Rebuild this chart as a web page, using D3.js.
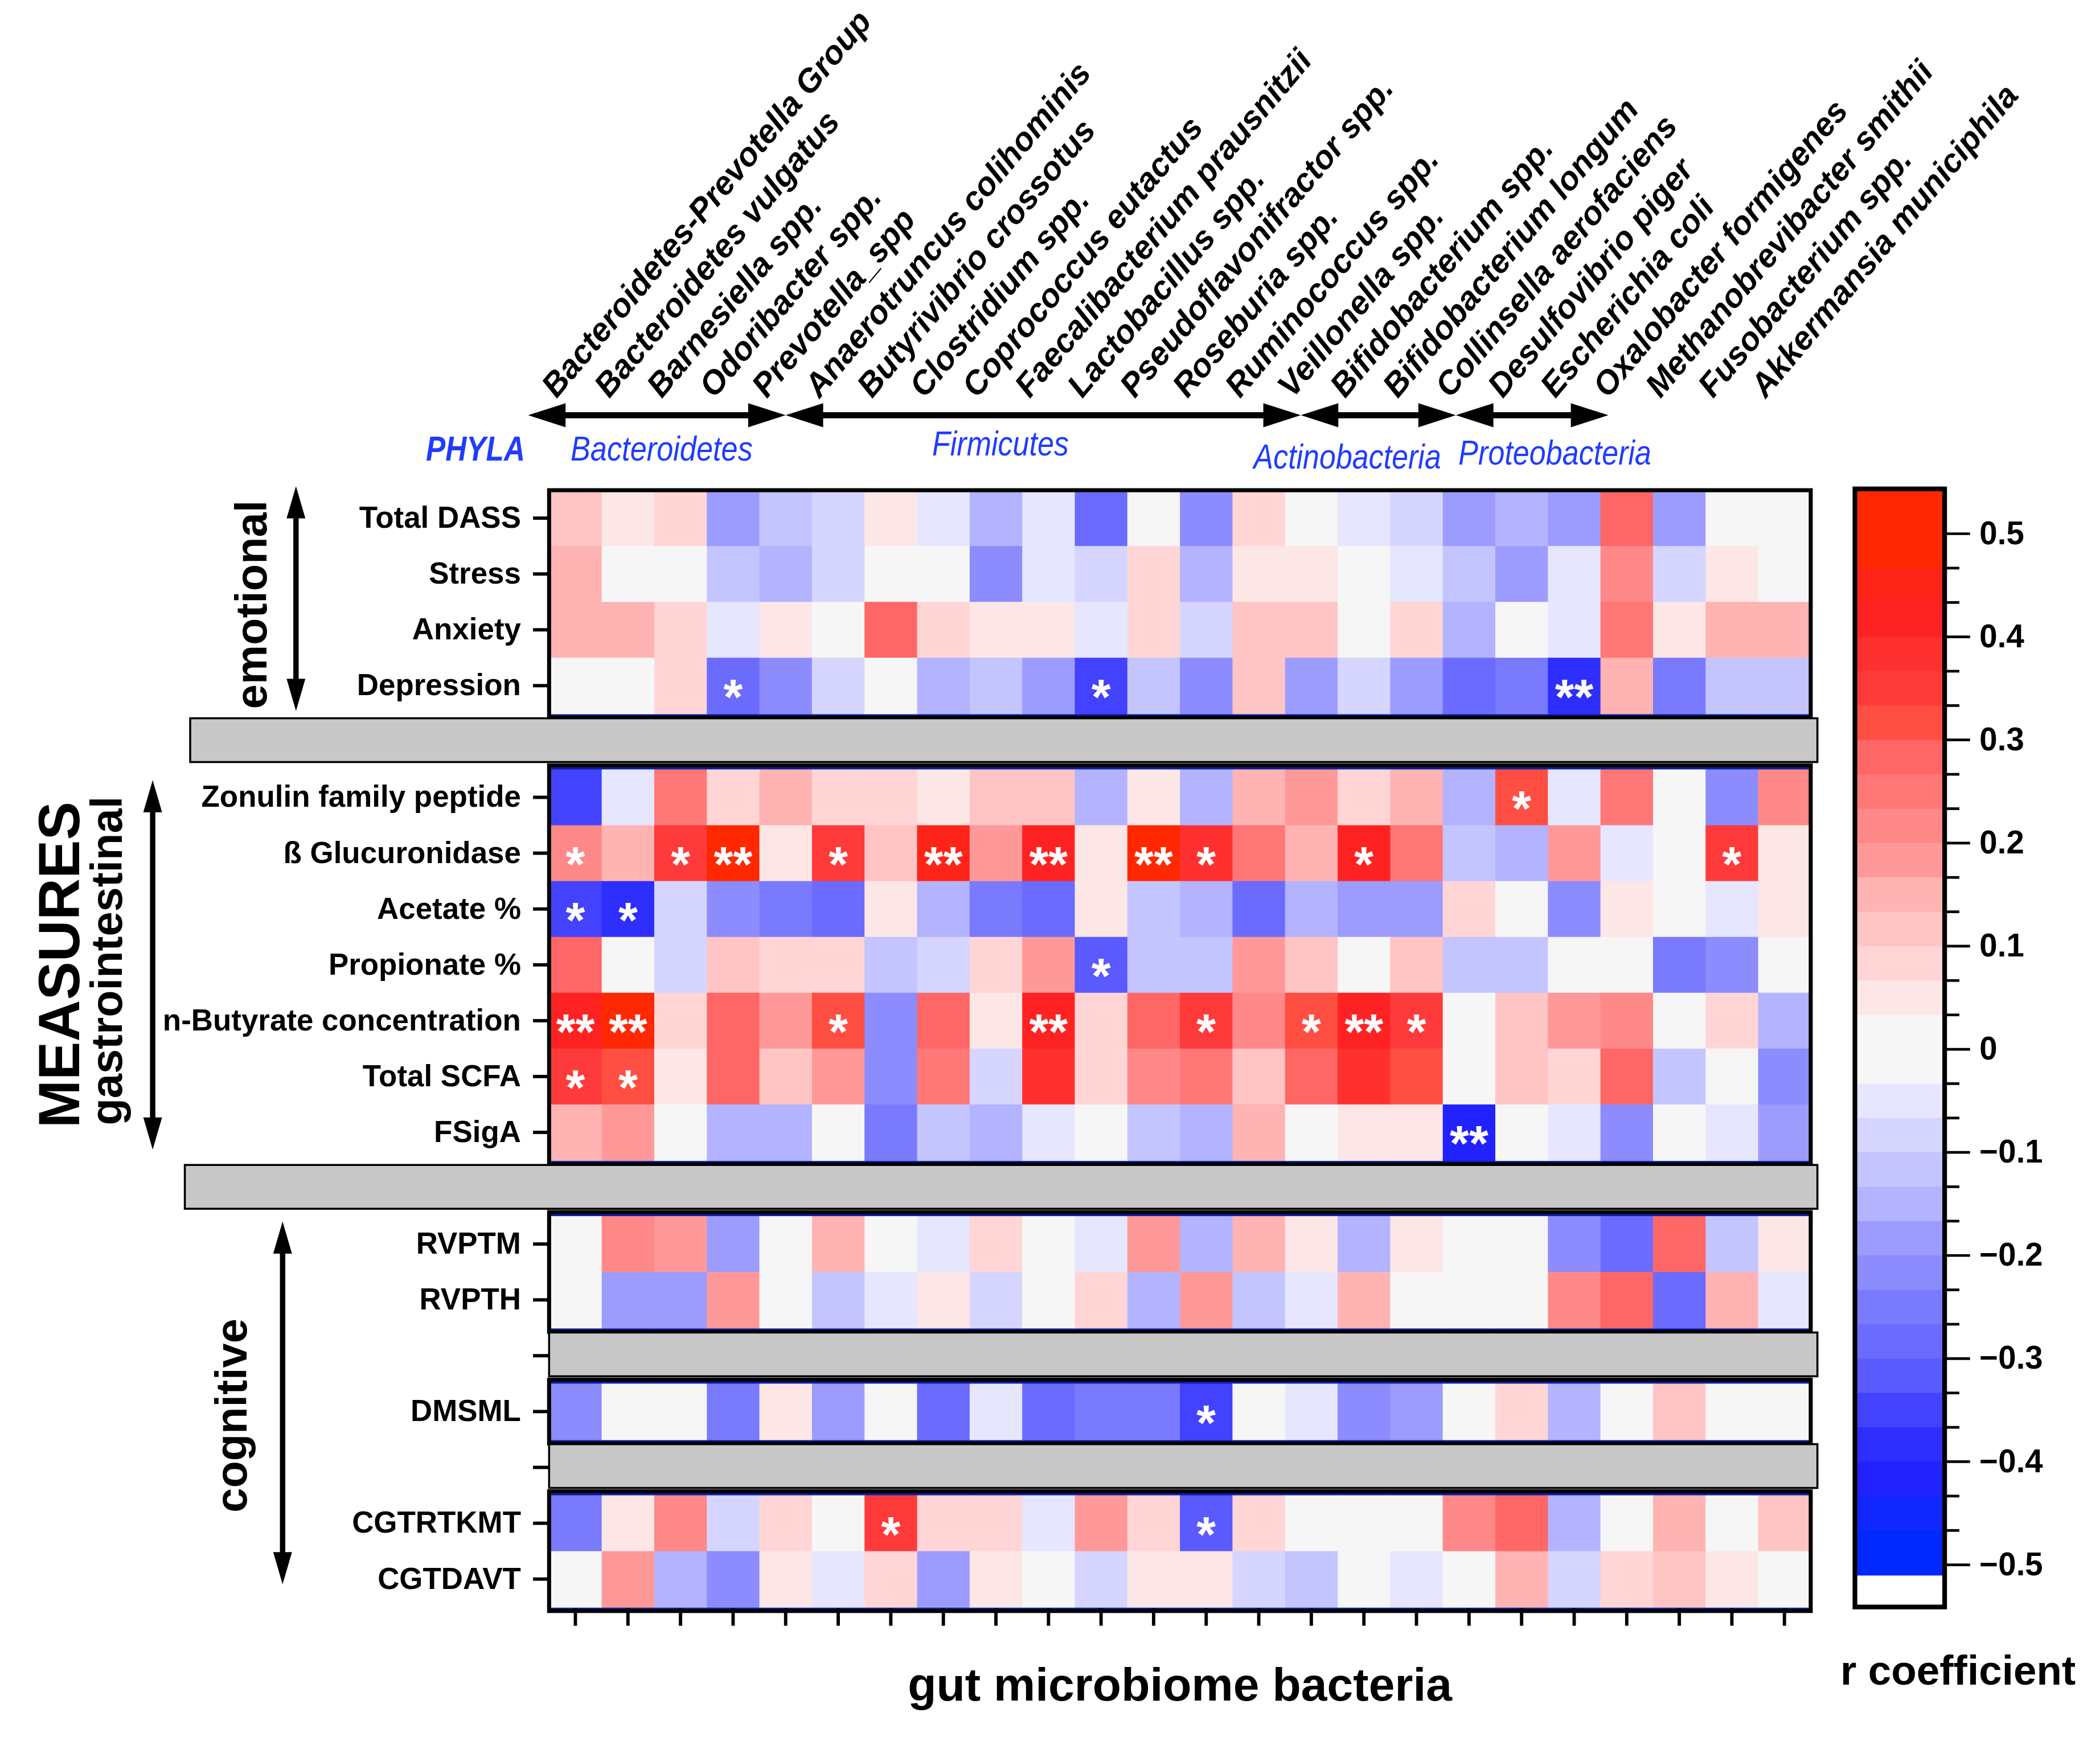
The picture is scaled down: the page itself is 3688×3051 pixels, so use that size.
<!DOCTYPE html>
<meta charset="utf-8">
<style>
    body { margin: 0; background: #fff; }
    text { font-family: "Liberation Sans", Arial, sans-serif; }
</style>

<body>
<script src="https://d3js.org/d3.v7.min.js"></script>
<script>

// bacteria (columns)
var bacteria = ["Bacteroidetes-Prevotella Group", "Bacteroidetes vulgatus", "Barnesiella spp.",
    "Odoribacter spp.", "Prevotella_spp", "Anaerotruncus colihominis", "Butyrivibrio crossotus",
    "Clostridium spp.", "Coprococcus eutactus", "Faecalibacterium prausnitzii", "Lactobacillus spp.",
    "Pseudoflavonifractor spp.", "Roseburia spp.", "Ruminococcus spp.", "Veillonella spp.",
    "Bifidobacterium spp.", "Bifidobacterium longum", "Collinsella aerofaciens", "Desulfovibrio piger",
    "Escherichia coli", "Oxalobacter formigenes", "Methanobrevibacter smithii", "Fusobacterium spp.",
    "Akkermansia municiphila"];

// measures (rows), gaps are the grey separators
var rowKeys = ["Total DASS", "Stress", "Anxiety", "Depression", "gap1",
    "Zonulin family peptide", "ß Glucuronidase", "Acetate %", "Propionate %",
    "n-Butyrate concentration", "Total SCFA", "FSigA", "gap2",
    "RVPTM", "RVPTH", "gap3", "DMSML", "gap4", "CGTRTKMT", "CGTDAVT"];

// r coefficients, one value per bacterium
var totalDASS  = [0.12, 0.05, 0.08, -0.18, -0.12, -0.08, 0.05, -0.05, -0.15, -0.05, -0.28, 0, -0.22, 0.08, 0, -0.05, -0.08, -0.18, -0.15, -0.18, 0.28, -0.18, 0, 0];
var stress     = [0.15, 0, 0, -0.12, -0.15, -0.08, 0, 0, -0.22, -0.05, -0.08, 0.08, -0.15, 0.05, 0.05, 0, -0.05, -0.12, -0.18, -0.05, 0.22, -0.08, 0.05, 0];
var anxiety    = [0.15, 0.15, 0.08, -0.05, 0.05, 0, 0.28, 0.08, 0.05, 0.05, -0.05, 0.08, -0.08, 0.12, 0.12, 0, 0.08, -0.15, 0, -0.05, 0.25, 0.05, 0.15, 0.15];
var depression = [0, 0, 0.08, -0.28, -0.22, -0.08, 0, -0.15, -0.12, -0.18, -0.35, -0.12, -0.22, 0.12, -0.18, -0.08, -0.18, -0.28, -0.25, -0.38, 0.15, -0.25, -0.12, -0.12];
var zonulin    = [-0.35, -0.05, 0.25, 0.08, 0.15, 0.08, 0.08, 0.05, 0.12, 0.12, -0.15, 0.05, -0.15, 0.15, 0.18, 0.08, 0.15, -0.15, 0.32, -0.05, 0.25, 0, -0.22, 0.22];
var glucuron   = [0.22, 0.15, 0.35, 0.48, 0.05, 0.35, 0.12, 0.45, 0.18, 0.42, 0.05, 0.48, 0.38, 0.25, 0.15, 0.42, 0.25, -0.12, -0.15, 0.18, -0.05, 0, 0.35, 0.05];
var acetate    = [-0.35, -0.38, -0.08, -0.22, -0.25, -0.28, 0.05, -0.15, -0.25, -0.28, 0.05, -0.12, -0.15, -0.28, -0.15, -0.18, -0.18, 0.08, 0, -0.22, 0.05, 0, -0.05, 0.05];
var propionate = [0.28, 0, -0.08, 0.12, 0.08, 0.08, -0.12, -0.08, 0.08, 0.18, -0.32, -0.12, -0.12, 0.18, 0.12, 0, 0.12, -0.12, -0.12, 0, 0, -0.25, -0.22, 0];
var butyrate   = [0.42, 0.48, 0.08, 0.28, 0.18, 0.32, -0.22, 0.28, 0.05, 0.42, 0.08, 0.28, 0.35, 0.22, 0.32, 0.42, 0.35, 0, 0.12, 0.18, 0.22, 0, 0.08, -0.15];
var totalSCFA  = [0.35, 0.32, 0.05, 0.28, 0.12, 0.18, -0.22, 0.25, -0.08, 0.38, 0.08, 0.22, 0.25, 0.12, 0.28, 0.38, 0.32, 0, 0.12, 0.08, 0.28, -0.12, 0, -0.22];
var fsiga      = [0.15, 0.18, 0, -0.15, -0.15, 0, -0.25, -0.12, -0.15, -0.05, 0, -0.12, -0.15, 0.15, 0, 0.05, 0.05, -0.42, 0, -0.05, -0.22, 0, -0.05, -0.18];
var rvptm      = [0, 0.22, 0.18, -0.18, 0, 0.15, 0, -0.05, 0.08, 0, -0.05, 0.18, -0.15, 0.15, 0.05, -0.15, 0.05, 0, 0, -0.22, -0.28, 0.28, -0.12, 0.05];
var rvpth      = [0, -0.18, -0.18, 0.18, 0, -0.12, -0.05, 0.05, -0.08, 0, 0.08, -0.15, 0.18, -0.12, -0.05, 0.15, 0, 0, 0, 0.22, 0.28, -0.28, 0.15, -0.05];
var dmsml      = [-0.22, 0, 0, -0.25, 0.05, -0.18, 0, -0.28, -0.05, -0.28, -0.25, -0.25, -0.35, 0, -0.05, -0.22, -0.18, 0, 0.08, -0.15, 0, 0.12, 0, 0];
var cgtrtkmt   = [-0.25, 0.05, 0.22, -0.08, 0.08, 0, 0.35, 0.08, 0.08, -0.05, 0.18, 0.08, -0.32, 0.08, 0, 0, 0, 0.22, 0.28, -0.15, 0, 0.15, 0, 0.12];
var cgtdavt    = [0, 0.18, -0.15, -0.22, 0.05, -0.05, 0.08, -0.18, 0.05, 0, -0.08, 0.05, 0.05, -0.08, -0.12, 0, -0.05, 0, 0.15, -0.08, 0.08, 0.12, 0.05, 0];

// significance marks: [row, bacterium index, mark]
var stars = [
    ["Depression", 3, "*"], ["Depression", 10, "*"], ["Depression", 19, "**"],
    ["Zonulin family peptide", 18, "*"],
    ["ß Glucuronidase", 0, "*"], ["ß Glucuronidase", 2, "*"], ["ß Glucuronidase", 3, "**"],
    ["ß Glucuronidase", 5, "*"], ["ß Glucuronidase", 7, "**"], ["ß Glucuronidase", 9, "**"],
    ["ß Glucuronidase", 11, "**"], ["ß Glucuronidase", 12, "*"], ["ß Glucuronidase", 15, "*"],
    ["ß Glucuronidase", 22, "*"],
    ["Acetate %", 0, "*"], ["Acetate %", 1, "*"],
    ["Propionate %", 10, "*"],
    ["n-Butyrate concentration", 0, "**"], ["n-Butyrate concentration", 1, "**"],
    ["n-Butyrate concentration", 5, "*"], ["n-Butyrate concentration", 9, "**"],
    ["n-Butyrate concentration", 12, "*"], ["n-Butyrate concentration", 14, "*"],
    ["n-Butyrate concentration", 15, "**"], ["n-Butyrate concentration", 16, "*"],
    ["Total SCFA", 0, "*"], ["Total SCFA", 1, "*"],
    ["FSigA", 17, "**"],
    ["DMSML", 12, "*"],
    ["CGTRTKMT", 6, "*"], ["CGTRTKMT", 12, "*"]
];

// phyla spans along the columns (in column units)
var phyla = ["Bacteroidetes", "Firmicutes", "Actinobacteria", "Proteobacteria"];
var phylaEdges = [-0.4, 4.5, 14.3, 17.25, 20.15];

// colour bar ticks
var cbMajor = [-0.5, -0.4, -0.3, -0.2, -0.1, 0, 0.1, 0.2, 0.3, 0.4, 0.5];

var measures = [
    { name: "Total DASS", values: totalDASS }, { name: "Stress", values: stress },
    { name: "Anxiety", values: anxiety }, { name: "Depression", values: depression },
    { name: "Zonulin family peptide", values: zonulin }, { name: "ß Glucuronidase", values: glucuron },
    { name: "Acetate %", values: acetate }, { name: "Propionate %", values: propionate },
    { name: "n-Butyrate concentration", values: butyrate }, { name: "Total SCFA", values: totalSCFA },
    { name: "FSigA", values: fsiga }, { name: "RVPTM", values: rvptm }, { name: "RVPTH", values: rvpth },
    { name: "DMSML", values: dmsml }, { name: "CGTRTKMT", values: cgtrtkmt }, { name: "CGTDAVT", values: cgtdavt }
];

// stepped colour scale, steps of 1/30 (the middle band spans -1/30..1/30)
var steps = d3.range(-14, 15).filter(function (k) { return k !== 0; }).map(function (k) { return k / 30; });
var stepColors = ["#0028ff", "#1028ff", "#2222ff", "#2e2eff", "#4242ff", "#5a5aff", "#6b6bff", "#7a7aff",
    "#8c8cff", "#9c9cff", "#b3b3ff", "#c4c4ff", "#d5d5ff", "#e6e6ff",
    "#f6f6f6",
    "#fde6e6", "#ffd5d5", "#ffc4c4", "#ffb3b3", "#ff9999", "#ff8888", "#ff7777", "#ff6666",
    "#ff4e42", "#ff3a3a", "#ff3030", "#ff2222", "#ff2418", "#ff2800"];
var color = d3.scaleThreshold().domain(steps).range(stepColors);

// the picture is laid out in a 1568 x 1297 frame and scaled up
var svg = d3.select("body").append("svg")
    .attr("width", 3688)
    .attr("height", 3051)
    .attr("viewBox", "0 0 1568 1297");

var x = d3.scaleBand().domain(bacteria).range([410, 1352]);
var y = d3.scaleBand().domain(rowKeys).range([366, 1200]);
var colU = d3.scaleLinear().domain([0, bacteria.length]).range([410, 1352]);
var bw = x.bandwidth(), bh = y.bandwidth();

// y axis (measures), drawn first so the wide grey bands hide the gap ticks
var yAxis = svg.append("g")
    .attr("transform", "translate(410,0)")
    .call(d3.axisLeft(y).tickSize(12).tickPadding(9)
        .tickFormat(function (d) { return d.indexOf("gap") === 0 ? "" : d; }));
yAxis.select(".domain").remove();
yAxis.selectAll("line").attr("stroke-width", 2.5);
yAxis.selectAll("text").attr("font-size", 22.5).attr("font-weight", "bold").attr("fill", "#000")
    .style("font-family", "'Liberation Sans', Arial, sans-serif");

// blocks of rows
var blocks = [["Total DASS", "Depression", 0], ["Zonulin family peptide", "FSigA", 3],
    ["RVPTM", "RVPTH", 3], ["DMSML", "DMSML", 3], ["CGTRTKMT", "CGTDAVT", 3]];

blocks.forEach(function (b) {
    svg.append("rect")
        .attr("x", 410).attr("width", 942)
        .attr("y", y(b[0]) - b[2])
        .attr("height", y(b[1]) + bh - y(b[0]) + b[2] + 3)
        .attr("fill", "#0a1fa0");
});

// heatmap cells
measures.forEach(function (m) {
    svg.append("g").selectAll("rect")
        .data(m.values)
        .join("rect")
        .attr("x", function (d, i) { return x(bacteria[i]); })
        .attr("y", y(m.name))
        .attr("width", bw + 0.5)
        .attr("height", bh + 0.5)
        .attr("fill", function (d) { return color(d); });
});

// significance stars
svg.append("g").selectAll("text")
    .data(stars)
    .join("text")
    .attr("x", function (d) { return x(bacteria[d[1]]) + bw / 2; })
    .attr("y", function (d) { return y(d[0]) + bh / 2 + 21; })
    .attr("text-anchor", "middle")
    .attr("fill", "#fff")
    .attr("font-size", 37)
    .attr("font-weight", "bold")
    .text(function (d) { return d[2]; });

// block frames
blocks.forEach(function (b) {
    svg.append("rect")
        .attr("x", 410).attr("width", 942)
        .attr("y", y(b[0]) - b[2])
        .attr("height", y(b[1]) + bh - y(b[0]) + b[2] + 3)
        .attr("fill", "none")
        .attr("stroke", "#000")
        .attr("stroke-width", 3);
});

// grey separators
var gaps = [["gap1", 142], ["gap2", 138], ["gap3", 410], ["gap4", 410]];
svg.append("g").selectAll("rect")
    .data(gaps)
    .join("rect")
    .attr("x", function (d) { return d[1]; })
    .attr("width", function (d) { return 1357 - d[1]; })
    .attr("y", function (d) { return y(d[0]) + 3.5; })
    .attr("height", bh - 9)
    .attr("fill", "#c8c8c8")
    .attr("stroke", "#000")
    .attr("stroke-width", 1.5);

// x axis ticks only
var xAxis = svg.append("g")
    .attr("transform", "translate(0,1201)")
    .call(d3.axisBottom(x).tickSize(13).tickFormat(""));
xAxis.select(".domain").remove();
xAxis.selectAll("line").attr("stroke-width", 2.5);

// bacteria names
svg.append("g").selectAll("text")
    .data(bacteria)
    .join("text")
    .attr("transform", function (d) {
        return "translate(" + (x(d) + bw / 2 - 14) + ",298) rotate(-50)";
    })
    .attr("font-size", 24.5)
    .attr("font-weight", "bold")
    .attr("font-style", "italic")
    .text(function (d) { return d; });

// phyla arrows
function hHead(px, py, dir) {
    var L = 28, h = 9;
    return "M" + px + "," + py + "L" + (px - dir * L) + "," + (py - h) + "L" + (px - dir * L) + "," + (py + h) + "Z";
}
var phyY = 310;
phyla.forEach(function (p, i) {
    var x0 = colU(phylaEdges[i]), x1 = colU(phylaEdges[i + 1]);
    svg.append("line").attr("x1", x0 + 20).attr("x2", x1 - 20)
        .attr("y1", phyY).attr("y2", phyY)
        .attr("stroke", "#000").attr("stroke-width", 4.5);
    svg.append("path").attr("d", hHead(x0, phyY, -1)).attr("fill", "#000");
    svg.append("path").attr("d", hHead(x1, phyY, 1)).attr("fill", "#000");
});

// phyla labels
var blue = "#1f3cff";
var phylaLabelPos = [[494, 344, 136], [747, 340, 102], [1006, 350, 140], [1161, 347, 144]];
phyla.forEach(function (p, i) {
    svg.append("text")
        .attr("x", phylaLabelPos[i][0]).attr("y", phylaLabelPos[i][1])
        .attr("text-anchor", "middle")
        .attr("font-size", 26)
        .attr("font-style", "italic")
        .attr("fill", blue)
        .attr("textLength", phylaLabelPos[i][2])
        .attr("lengthAdjust", "spacingAndGlyphs")
        .text(p);
});
svg.append("text")
    .attr("x", 355).attr("y", 344)
    .attr("text-anchor", "middle")
    .attr("font-size", 26).attr("font-weight", "bold").attr("font-style", "italic")
    .attr("fill", blue)
    .attr("textLength", 74).attr("lengthAdjust", "spacingAndGlyphs")
    .text("PHYLA");

// vertical double arrows and group names
function vArrow(ax, y0, y1) {
    var L = 24, h = 7;
    svg.append("line").attr("x1", ax).attr("x2", ax).attr("y1", y0 + 10).attr("y2", y1 - 10)
        .attr("stroke", "#000").attr("stroke-width", 4);
    svg.append("path").attr("d", "M" + ax + "," + y0 + "L" + (ax - h) + "," + (y0 + L) + "L" + (ax + h) + "," + (y0 + L) + "Z");
    svg.append("path").attr("d", "M" + ax + "," + y1 + "L" + (ax - h) + "," + (y1 - L) + "L" + (ax + h) + "," + (y1 - L) + "Z");
}
function vText(tx, ty, size, label) {
    svg.append("text")
        .attr("transform", "translate(" + tx + "," + ty + ") rotate(-90)")
        .attr("text-anchor", "middle")
        .attr("font-size", size)
        .attr("font-weight", "bold")
        .text(label);
}
var emoTop = y("Total DASS"), emoBot = y("Depression") + bh;
var giTop = y("Zonulin family peptide"), giBot = y("FSigA") + bh;
var cogTop = y("RVPTM"), cogBot = y("CGTDAVT") + bh;

vArrow(221, emoTop - 3, emoBot - 2);
vArrow(114, giTop + 8, giBot - 8);
vArrow(211, cogTop + 4, cogBot - 17);

vText(199, (emoTop + emoBot) / 2 + 2, 33, "emotional");
vText(59, (giTop + giBot) / 2, 43, "MEASURES");
vText(91, (giTop + giBot) / 2 - 3, 33, "gastrointestinal");
vText(184, (cogTop + cogBot) / 2 + 3, 33, "cognitive");

// axis title
svg.append("text")
    .attr("x", 881).attr("y", 1270)
    .attr("text-anchor", "middle")
    .attr("font-size", 35).attr("font-weight", "bold")
    .text("gut microbiome bacteria");

// colour bar
var cb = d3.scaleLinear().domain([-0.5, 0.5]).range([1168, 398]);
var cbLo = cb.invert(1176), cbHi = cb.invert(365);
var bands = stepColors.map(function (c, i) {
    return {
        lo: i === 0 ? cbLo : steps[i - 1],
        hi: i === stepColors.length - 1 ? cbHi : steps[i],
        c: c
    };
});
svg.append("g").selectAll("rect")
    .data(bands)
    .join("rect")
    .attr("x", 1385).attr("width", 67)
    .attr("y", function (d) { return cb(d.hi); })
    .attr("height", function (d) { return cb(d.lo) - cb(d.hi) + 0.5; })
    .attr("fill", function (d) { return d.c; });
svg.append("rect")
    .attr("x", 1385).attr("width", 67)
    .attr("y", 365).attr("height", 835)
    .attr("fill", "none").attr("stroke", "#000").attr("stroke-width", 3.5);

var cbMinor = d3.range(-15, 16).filter(function (k) { return k % 3 !== 0; }).map(function (k) { return k / 30; });
var minorAxis = svg.append("g")
    .attr("transform", "translate(1453,0)")
    .call(d3.axisRight(cb).tickValues(cbMinor).tickSize(10).tickFormat(""));
minorAxis.select(".domain").remove();
minorAxis.selectAll("line").attr("stroke-width", 2);

var majorAxis = svg.append("g")
    .attr("transform", "translate(1453,0)")
    .call(d3.axisRight(cb).tickValues(cbMajor).tickSize(18).tickPadding(7)
        .tickFormat(function (d) { return d === 0 ? "0" : d3.format(".1f")(d); }));
majorAxis.select(".domain").remove();
majorAxis.selectAll("line").attr("stroke-width", 2);
majorAxis.selectAll("text").attr("font-size", 24).attr("font-weight", "bold").attr("fill", "#000")
    .style("font-family", "'Liberation Sans', Arial, sans-serif");

svg.append("text")
    .attr("x", 1462).attr("y", 1258)
    .attr("text-anchor", "middle")
    .attr("font-size", 31).attr("font-weight", "bold")
    .text("r coefficient");

</script>
</body>
